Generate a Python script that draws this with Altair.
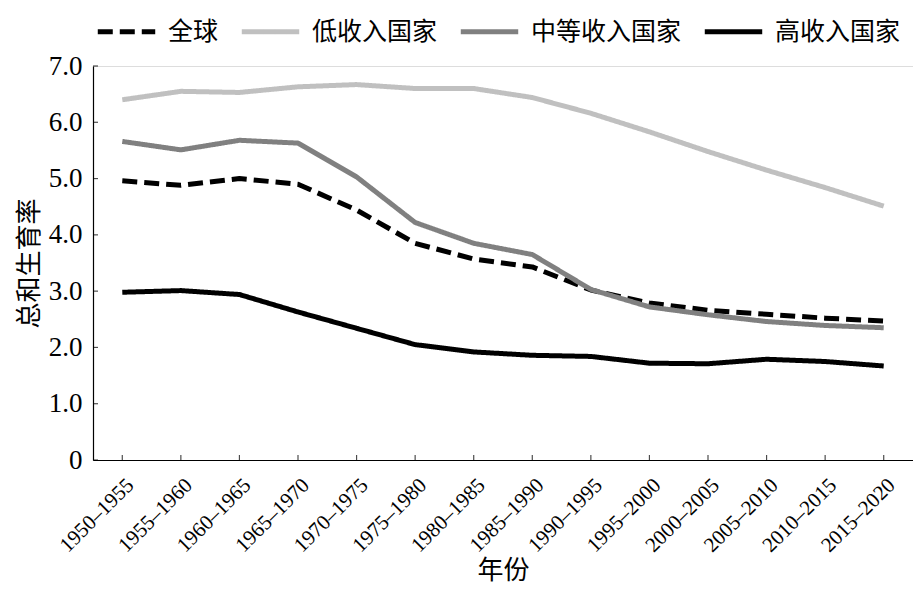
import altair as alt
import pandas as pd

periods = ["1950–1955", "1955–1960", "1960–1965", "1965–1970", "1970–1975",
           "1975–1980", "1980–1985", "1985–1990", "1990–1995", "1995–2000",
           "2000–2005", "2005–2010", "2010–2015", "2015–2020"]
series_names = ["全球", "低收入国家", "中等收入国家", "高收入国家"]
world = [4.96, 4.88, 5.00, 4.90, 4.44, 3.85, 3.57, 3.43, 3.02, 2.79, 2.66, 2.59, 2.52, 2.47]
low_income = [6.40, 6.55, 6.53, 6.63, 6.67, 6.60, 6.60, 6.44, 6.16, 5.83, 5.48, 5.15, 4.84, 4.51]
middle_income = [5.66, 5.51, 5.68, 5.63, 5.03, 4.22, 3.85, 3.65, 3.03, 2.72, 2.58, 2.46, 2.39, 2.35]
high_income = [2.98, 3.01, 2.94, 2.63, 2.34, 2.05, 1.92, 1.86, 1.84, 1.72, 1.71, 1.79, 1.75, 1.67]
y_ticks = [0, 1, 2, 3, 4, 5, 6, 7]

colors = ["#000000", "#c0c0c0", "#808080", "#000000"]
dashes = [[15, 7], [1, 0], [1, 0], [1, 0]]

rows = []
for name, vals in zip(series_names, [world, low_income, middle_income, high_income]):
    for p, v in zip(periods, vals):
        rows.append({"period": p, "series": name, "tfr": v,
                     "order": series_names.index(name)})
df = pd.DataFrame(rows)

W, H = 820, 394
cn_font = "Noto Sans CJK SC"
num_font = "Liberation Serif"

x_enc = alt.X("period:N", sort=periods, title="年份",
              scale=alt.Scale(type="point", padding=0.5),
              axis=alt.Axis(labelAngle=-45, labelAlign="right", labelBaseline="top",
                            labelFont=num_font, labelFontSize=21, labelColor="#000",
                            labelPadding=14, ticks=False, domainColor="#000",
                            domainWidth=1.2, titleFont=cn_font, titleFontSize=26,
                            titleFontWeight="normal", titleColor="#000",
                            titlePadding=2, grid=False))
y_enc = alt.Y("tfr:Q", title="总和生育率",
              scale=alt.Scale(domain=[0, 7], nice=False, zero=True),
              axis=alt.Axis(values=y_ticks, labelExpr="datum.value == 0 ? '0' : format(datum.value, '.1f')",
                            labelFont=num_font, labelFontSize=27, labelColor="#000",
                            labelPadding=11, ticks=False, domainColor="#000",
                            domainWidth=1.2, titleFont=cn_font, titleFontSize=26,
                            titleFontWeight="normal", titleColor="#000",
                            titlePadding=6, grid=False))

legend_cfg = dict(title=None, orient="none", direction="horizontal",
                  legendX=2, legendY=-66, padding=0,
                  symbolType="stroke", symbolSize=3300,
                  symbolStrokeWidth=5, labelFont=cn_font,
                  labelFontSize=25, labelColor="#000",
                  labelOffset=10, columnPadding=12,
                  labelLimit=300)

lines = alt.Chart(df).mark_line(strokeWidth=5, strokeCap="butt", strokeJoin="round").encode(
    x=x_enc,
    y=y_enc,
    color=alt.Color("series:N", sort=series_names,
                    scale=alt.Scale(domain=series_names, range=colors),
                    legend=alt.Legend(**legend_cfg)),
    strokeDash=alt.StrokeDash("series:N", sort=series_names,
                              scale=alt.Scale(domain=series_names, range=dashes),
                              legend=alt.Legend(**legend_cfg)),
    order=alt.Order("order:Q"),
)

ytick_df = pd.DataFrame({"v": y_ticks})
yticks = alt.Chart(ytick_df).mark_tick(color="#000", thickness=1.2, size=5, orient="horizontal").encode(
    y=alt.Y("v:Q", scale=alt.Scale(domain=[0, 7], nice=False)),
    x=alt.value(2.5),
)
xtick_df = pd.DataFrame({"p": periods})
xticks = alt.Chart(xtick_df).mark_tick(color="#000", thickness=1.2, size=5, orient="vertical").encode(
    x=alt.X("p:N", sort=periods, scale=alt.Scale(type="point", padding=0.5)),
    y=alt.value(H - 2.5),
)

chart = alt.layer(lines, yticks, xticks).properties(
    width=W, height=H,
    autosize=alt.AutoSizeParams(type="none"),
    padding={"left": 85, "top": 58, "right": 0, "bottom": 130},
).configure_view(stroke=None).configure(background="white")

chart.save("out.html", embed_options={"renderer": "svg", "actions": False})
